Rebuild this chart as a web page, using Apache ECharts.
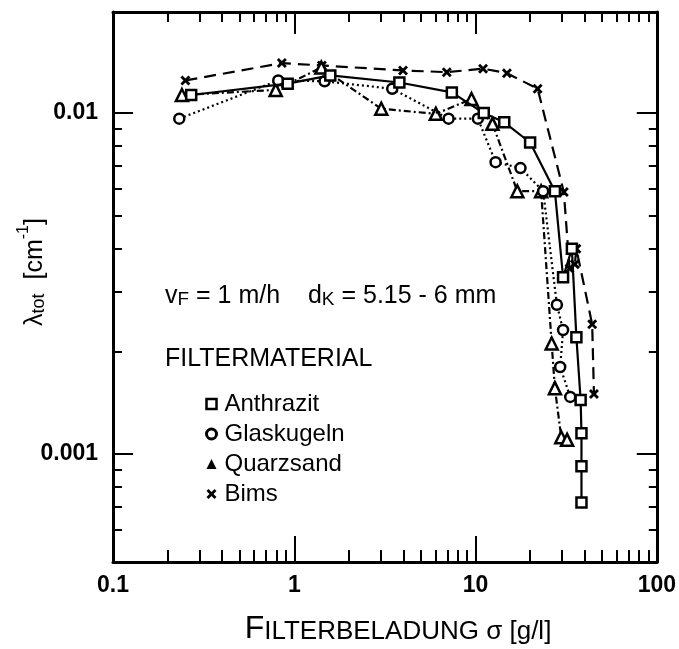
<!DOCTYPE html>
<html><head><meta charset="utf-8">
<script src="https://cdn.jsdelivr.net/npm/echarts@6/dist/echarts.min.js"></script>
<style>html,body{margin:0;padding:0;background:#fff}#c{width:679px;height:649px}</style>
</head><body><div id="c"></div>
<script>
// ---- data ----
const anthrazitX = [0.27, 0.92, 1.58, 3.8, 7.4, 11.1, 14.4, 20, 27.4, 30.4, 34, 36, 38, 38.4, 38.4, 38.4];
const anthrazitY = [0.0113, 0.0122, 0.0129, 0.0123, 0.0115, 0.0100, 0.0094, 0.0082, 0.0059, 0.0033, 0.0040, 0.0022, 0.00144, 0.00115, 0.00092, 0.00072];
const glasX = [0.232, 0.816, 1.47, 3.47, 7.1, 10.3, 12.9, 17.7, 23.6, 28.1, 30.4, 29.3, 33.3];
const glasY = [0.00963, 0.01247, 0.0124, 0.01179, 0.00963, 0.00963, 0.00718, 0.0069, 0.0059, 0.00274, 0.00231, 0.0018, 0.00147];
const quarzX = [0.24, 0.79, 1.41, 3.02, 6.04, 9.5, 12.4, 17.0, 23, 26.3, 27.4, 29.7, 32];
const quarzY = [0.0113, 0.0117, 0.0136, 0.0103, 0.00995, 0.0110, 0.0093, 0.0059, 0.0059, 0.00211, 0.00156, 0.00112, 0.0011];
const bimsX = [0.251, 0.854, 1.42, 3.98, 6.94, 11.0, 14.9, 22.0, 30.7, 33, 35.3, 36, 44, 45];
const bimsY = [0.01247, 0.01402, 0.0138, 0.01334, 0.01319, 0.0135, 0.0131, 0.01179, 0.00587, 0.0035, 0.0036, 0.0040, 0.0024, 0.0015];
const xMajor = [0.1, 1, 10, 100];
const xMinor = [0.2,0.3,0.4,0.5,0.6,0.7,0.8,0.9,2,3,4,5,6,7,8,9,20,30,40,50,60,70,80,90];
const yMajor = [0.001, 0.01];
const yMinor = [0.0006,0.0007,0.0008,0.0009,0.002,0.003,0.004,0.005,0.006,0.007,0.008,0.009];
const seriesNames = ['Anthrazit', 'Glaskugeln', 'Quarzsand', 'Bims'];

const pairs = (xs, ys) => xs.map((x, i) => [x, ys[i]]);
const FONT = '"Liberation Sans", Arial, sans-serif';
const chart = echarts.init(document.getElementById('c'), null, {renderer: 'canvas'});
const XMIN = 0.1, XMAX = 100, YMIN = 0.000482, YMAX = 0.0198;

function xAx(pos, custom, len, showLabel, showLine) {
  return {
    type: 'log', logBase: 10, min: XMIN, max: XMAX, position: pos,
    axisLine: {show: showLine, onZero: false, lineStyle: {color: '#000', width: 3}},
    axisTick: {show: true, inside: true, length: len, customValues: custom, lineStyle: {color: '#000', width: 2}},
    axisLabel: {show: showLabel, customValues: xMajor, color: '#000', fontFamily: FONT, fontSize: 23, fontWeight: 'bold', margin: 12,
      formatter: v => String(v)},
    splitLine: {show: false}
  };
}
function yAx(pos, custom, len, showLabel, showLine) {
  return {
    type: 'log', logBase: 10, min: YMIN, max: YMAX, position: pos,
    axisLine: {show: showLine, onZero: false, lineStyle: {color: '#000', width: 3}},
    axisTick: {show: true, inside: true, length: len, customValues: custom, lineStyle: {color: '#000', width: 2}},
    axisLabel: {show: showLabel, customValues: yMajor, color: '#000', fontFamily: FONT, fontSize: 23, fontWeight: 'bold', margin: 15,
      formatter: v => (v === 0.01 ? '0.01' : '0.001')},
    splitLine: {show: false}
  };
}

const crossPath = 'path://M0,2 L2,0 L5,3 L8,0 L10,2 L7,5 L10,8 L8,10 L5,7 L2,10 L0,8 L3,5 Z';
const symbols = ['rect', 'circle', 'triangle', crossPath];
const dashes = ['solid', [2, 3], [7, 3, 2, 3], [12, 7]];
const sizes = [10, 10, 12, 10];
const datas = [pairs(anthrazitX, anthrazitY), pairs(glasX, glasY), pairs(quarzX, quarzY), pairs(bimsX, bimsY)];

const series = seriesNames.map((n, i) => ({
  name: n, type: 'line', xAxisIndex: 0, yAxisIndex: 0, data: datas[i],
  symbol: symbols[i], symbolSize: sizes[i], showAllSymbol: true,
  lineStyle: {color: '#000', width: 2.2, type: dashes[i]},
  itemStyle: {color: i === 3 ? '#000' : '#fff', borderColor: '#000', borderWidth: i === 3 ? 0 : 2.5},
  z: 5 - i, animation: false
}));

chart.setOption({
  animation: false,
  backgroundColor: '#fff',
  grid: {left: 113, right: 16, top: 12, bottom: 87, containLabel: false},
  xAxis: [
    xAx('bottom', [1, 10], 26, true, true),
    xAx('bottom', xMinor, 12, false, false),
    xAx('top', [1, 10], 22, false, true),
    xAx('top', xMinor, 10, false, false)
  ],
  yAxis: [
    yAx('left', yMajor, 20, true, true),
    yAx('left', yMinor, 9, false, false),
    yAx('right', yMajor, 20, false, true),
    yAx('right', yMinor, 8, false, false)
  ],
  legend: {
    orient: 'vertical', left: 200, top: 384, itemGap: 0, itemWidth: 10, itemHeight: 10,
    textStyle: {color: '#000', fontFamily: FONT, fontSize: 24, lineHeight: 30, padding: [0, 0, 0, 3]},
    data: [
      {name: 'Anthrazit', icon: 'rect', itemStyle: {color: '#fff', borderColor: '#000', borderWidth: 2.5}},
      {name: 'Glaskugeln', icon: 'circle', itemStyle: {color: '#fff', borderColor: '#000', borderWidth: 3}},
      {name: 'Quarzsand', icon: 'triangle', itemStyle: {color: '#000', borderWidth: 0}},
      {name: 'Bims', icon: crossPath, itemStyle: {color: '#000', borderWidth: 0}}
    ],
    selectedMode: false
  },
  graphic: [
    {type: 'text', left: 165, top: 284, style: {
      text: '{m|v}{s|F}{m| = 1 m/h    d}{s|K}{m| = 5.15 - 6 mm}',
      rich: {m: {fontFamily: FONT, fontSize: 25, fill: '#000', lineHeight: 36, verticalAlign: 'bottom'},
             s: {fontFamily: FONT, fontSize: 19, fill: '#000', lineHeight: 12, verticalAlign: 'bottom'}}
    }},
    {type: 'text', left: 165, top: 347, style: {text: 'FILTERMATERIAL', fontFamily: FONT, fontSize: 25, fill: '#000'}},
    {type: 'text', x: 32, y: 272, rotation: Math.PI / 2, style: {
      text: '{m|λ}{s|tot}{m|  [cm}{p|-1}{m|]}', align: 'center', verticalAlign: 'middle',
      rich: {m: {fontFamily: FONT, fontSize: 25, fill: '#000', lineHeight: 32, verticalAlign: 'bottom'},
             s: {fontFamily: FONT, fontSize: 18, fill: '#000', lineHeight: 10, verticalAlign: 'bottom'},
             p: {fontFamily: FONT, fontSize: 16, fill: '#000', lineHeight: 16, verticalAlign: 'top'}}
    }},
    {type: 'text', x: 398, y: 628, style: {
      text: '{b|F}{c|ILTERBELADUNG σ [g/l]}', align: 'center', verticalAlign: 'middle',
      rich: {b: {fontFamily: FONT, fontSize: 32, fill: '#000', lineHeight: 34, verticalAlign: 'bottom'},
             c: {fontFamily: FONT, fontSize: 26, fill: '#000', lineHeight: 30, verticalAlign: 'bottom'}}
    }}
  ],
  series: series
});
</script></body></html>
